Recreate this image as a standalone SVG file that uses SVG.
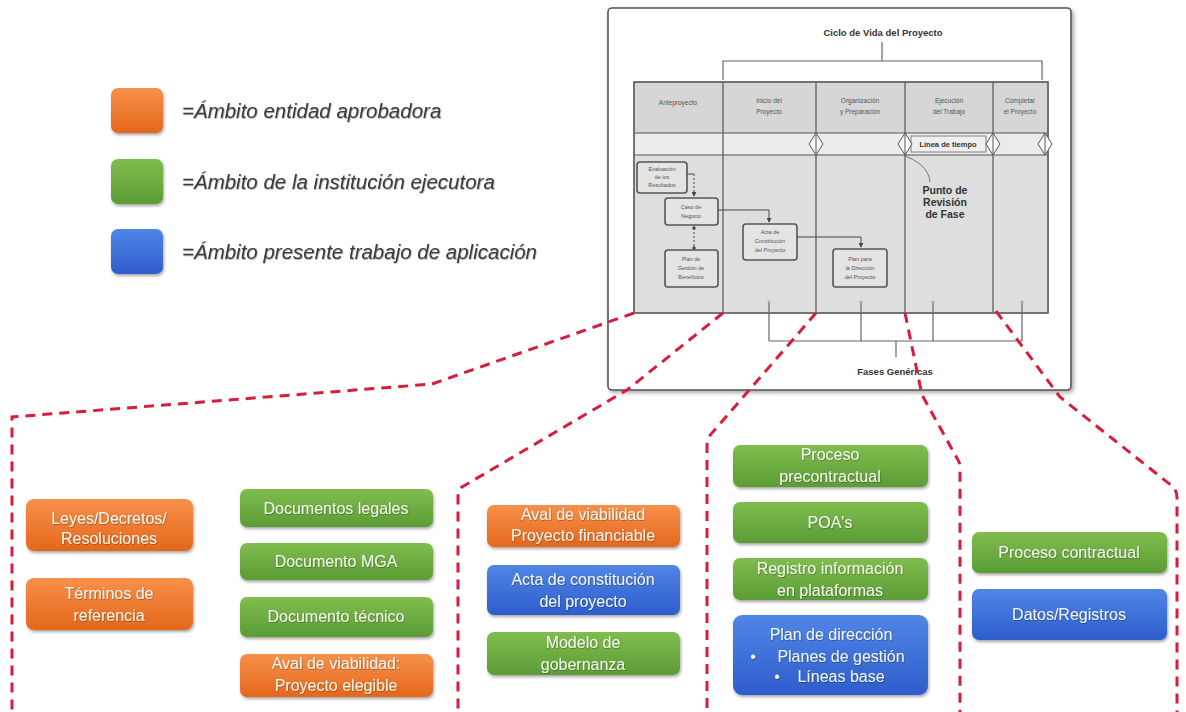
<svg xmlns="http://www.w3.org/2000/svg" width="1186" height="712" viewBox="0 0 1186 712">
  <defs>
    <linearGradient id="gOrange" x1="0" y1="0" x2="0" y2="1">
      <stop offset="0" stop-color="#f7904a"/>
      <stop offset="1" stop-color="#e4671b"/>
    </linearGradient>
    <linearGradient id="gGreen" x1="0" y1="0" x2="0" y2="1">
      <stop offset="0" stop-color="#80bd4f"/>
      <stop offset="1" stop-color="#5c9c35"/>
    </linearGradient>
    <linearGradient id="gBlue" x1="0" y1="0" x2="0" y2="1">
      <stop offset="0" stop-color="#5086e6"/>
      <stop offset="1" stop-color="#2e5dcc"/>
    </linearGradient>
    <filter id="shadow" x="-10%" y="-20%" width="125%" height="150%">
      <feDropShadow dx="1" dy="2" stdDeviation="1.6" flood-color="#000" flood-opacity="0.35"/>
    </filter>
    <filter id="frameShadow" x="-5%" y="-5%" width="110%" height="110%">
      <feDropShadow dx="2" dy="2" stdDeviation="2" flood-color="#000" flood-opacity="0.35"/>
    </filter>
    <filter id="textShadow" x="-5%" y="-20%" width="110%" height="150%">
      <feDropShadow dx="0.6" dy="0.8" stdDeviation="0.6" flood-color="#000" flood-opacity="0.35"/>
    </filter>
    <marker id="tip" viewBox="0 0 6 6" refX="5" refY="3" markerWidth="5" markerHeight="5" orient="auto">
      <path d="M0,0 L6,3 L0,6 Z" fill="#444"/>
    </marker>
    <marker id="dot" viewBox="0 0 6 6" refX="3" refY="3" markerWidth="4" markerHeight="4">
      <circle cx="3" cy="3" r="2.5" fill="#444"/>
    </marker>
  </defs>
  <style>
    .box { stroke: none; filter: url(#shadow); }
    .o { fill: url(#gOrange); }
    .g { fill: url(#gGreen); }
    .b { fill: url(#gBlue); }
    .bt { font-family: "Liberation Sans", Arial, sans-serif; font-size: 16px; fill: #f3f6ee; text-anchor: middle; filter: url(#textShadow); }
    .leg { font-family: "Liberation Sans", Arial, sans-serif; font-size: 20.5px; font-style: italic; fill: #3a3a3a; filter: url(#textShadow); }
    .hdr { font-family: "Liberation Sans", Arial, sans-serif; font-size: 6.5px; fill: #555; text-anchor: middle; }
    .ib { fill: #e4e4e4; stroke: #555; stroke-width: 1.6; }
    .ibt { font-family: "Liberation Sans", Arial, sans-serif; font-size: 5.5px; fill: #555; text-anchor: middle; }
    .bold { font-family: "Liberation Sans", Arial, sans-serif; font-weight: bold; fill: #333; text-anchor: middle; }
    .thin { fill: none; stroke: #666; stroke-width: 1.2; }
    .div { stroke: #555; stroke-width: 1.2; }
    .dia { fill: #fafafa; stroke: #555; stroke-width: 1; }
    .link { fill: none; stroke: #444; stroke-width: 1; }
    .red { fill: none; stroke: #d81c3c; stroke-width: 3; stroke-dasharray: 10 7; }
  </style>

  <rect width="1186" height="712" fill="#ffffff"/>

  <!-- Legend -->
  <g id="legend-approver">
    <rect class="box o" x="111" y="88" width="52" height="45" rx="7"/>
    <text class="leg" x="182" y="118">=Ámbito entidad aprobadora</text>
  </g>
  <g id="legend-executor">
    <rect class="box g" x="111" y="159" width="52" height="45" rx="7"/>
    <text class="leg" x="182" y="189">=Ámbito de la institución ejecutora</text>
  </g>
  <g id="legend-application">
    <rect class="box b" x="111" y="229" width="52" height="45" rx="7"/>
    <text class="leg" x="182" y="259">=Ámbito presente trabajo de aplicación</text>
  </g>

  <!-- Project life cycle figure -->
  <g id="lifecycle">
    <rect x="608" y="8" width="463" height="382" rx="4" fill="#ffffff" stroke="#555" stroke-width="1.6" filter="url(#frameShadow)"/>
    <text class="bold" x="883" y="36" font-size="9.5">Ciclo de Vida del Proyecto</text>
    <path class="thin" d="M723,80 V61 H1042 V80 M882,42 V61"/>

    <!-- table -->
    <rect x="634" y="82" width="414" height="231" fill="#dedede"/>
    <rect x="634" y="82" width="414" height="51" fill="#d6d6d6"/>
    <rect x="634" y="133" width="414" height="22" fill="#ececec"/>
    <path class="div" d="M634,133 H1048 M634,155 H1048 M723,82 V313 M816,82 V313 M905,82 V313 M993,82 V313"/>
    <rect x="634" y="82" width="414" height="231" fill="none" stroke="#666" stroke-width="1.8"/>

    <text class="hdr" x="678" y="105">Anteproyecto</text>
    <text class="hdr" x="769" y="103">Inicio del</text>
    <text class="hdr" x="769" y="114">Proyecto</text>
    <text class="hdr" x="860" y="103">Organización</text>
    <text class="hdr" x="860" y="114">y Preparación</text>
    <text class="hdr" x="949" y="103">Ejecución</text>
    <text class="hdr" x="949" y="114">del Trabajo</text>
    <text class="hdr" x="1020" y="103">Completar</text>
    <text class="hdr" x="1020" y="114">el Proyecto</text>

    <!-- timeline -->
    <rect x="911" y="136" width="75" height="16" fill="#efefef" stroke="#666" stroke-width="0.8"/>
    <text class="bold" x="948" y="147" font-size="7.5">Línea de tiempo</text>
    <g id="gates">
      <path class="dia" d="M816,133 L809,144 L816,155 L823,144 Z M816,134 V154"/>
      <path class="dia" d="M905,133 L898,144 L905,155 L912,144 Z M905,134 V154"/>
      <path class="dia" d="M993,133 L986,144 L993,155 L1000,144 Z M993,134 V154"/>
      <path class="dia" d="M1045,133 L1038,144 L1045,155 L1052,144 Z M1045,134 V154"/>
    </g>
    <path d="M905,156 C916,160 929,168 930,182" fill="none" stroke="#777" stroke-width="1"/>
    <text class="bold" x="945" y="194" font-size="10.5">Punto de</text>
    <text class="bold" x="945" y="206" font-size="10.5">Revisión</text>
    <text class="bold" x="945" y="218" font-size="10.5">de Fase</text>

    <!-- documents -->
    <g id="doc-evaluacion">
      <rect class="ib" x="637" y="162" width="50" height="31" rx="3"/>
      <text class="ibt" x="662" y="171">Evaluación</text>
      <text class="ibt" x="662" y="179">de los</text>
      <text class="ibt" x="662" y="187">Resultados</text>
    </g>
    <g id="doc-caso">
      <rect class="ib" x="665" y="198" width="53" height="27" rx="3"/>
      <text class="ibt" x="691" y="209">Caso de</text>
      <text class="ibt" x="691" y="218">Negocio</text>
    </g>
    <g id="doc-beneficios">
      <rect class="ib" x="665" y="250" width="53" height="37" rx="3"/>
      <text class="ibt" x="691" y="261">Plan de</text>
      <text class="ibt" x="691" y="270">Gestión de</text>
      <text class="ibt" x="691" y="279">Beneficios</text>
    </g>
    <g id="doc-acta">
      <rect class="ib" x="743" y="224" width="54" height="36" rx="3"/>
      <text class="ibt" x="770" y="234">Acta de</text>
      <text class="ibt" x="770" y="243">Constitución</text>
      <text class="ibt" x="770" y="252">del Proyecto</text>
    </g>
    <g id="doc-plan">
      <rect class="ib" x="833" y="249" width="54" height="38" rx="3"/>
      <text class="ibt" x="860" y="261">Plan para</text>
      <text class="ibt" x="860" y="270">la Dirección</text>
      <text class="ibt" x="860" y="279">del Proyecto</text>
    </g>
    <g id="doc-links">
      <path class="link" d="M687,174 H694"/>
      <path class="link" d="M694,174 V196" stroke-dasharray="2 2" marker-end="url(#tip)"/>
      <path class="link" d="M694,228 V248" stroke-dasharray="2 2" marker-start="url(#dot)" marker-end="url(#dot)"/>
      <path class="link" d="M718,210 H769 V222" marker-end="url(#tip)"/>
      <path class="link" d="M797,237 H861 V247" marker-end="url(#tip)"/>
    </g>

    <!-- generic phases -->
    <path class="thin" d="M769,302 V341 M861,302 V341 M933,302 V341 M1022,302 V341 M769,341 H1022 M896,341 V357" stroke="#888"/>
    <g fill="#aaa">
      <circle cx="769" cy="302" r="1.5"/>
      <circle cx="861" cy="302" r="1.5"/>
      <circle cx="933" cy="302" r="1.5"/>
      <circle cx="1022" cy="302" r="1.5"/>
    </g>
    <text class="bold" x="895" y="375" font-size="9.5">Fases Genéricas</text>
  </g>

  <!-- Column 1: Anteproyecto -->
  <g id="n-leyes">
    <rect class="box o" x="26" y="499" width="167" height="52" rx="8"/>
    <text class="bt" x="109" y="524">Leyes/Decretos/</text>
    <text class="bt" x="109" y="544">Resoluciones</text>
  </g>
  <g id="n-terminos">
    <rect class="box o" x="26" y="578" width="167" height="52" rx="8"/>
    <text class="bt" x="109" y="599">Términos de</text>
    <text class="bt" x="109" y="621">referencia</text>
  </g>
  <g id="n-doc-legales">
    <rect class="box g" x="240" y="489" width="193" height="38" rx="7"/>
    <text class="bt" x="336" y="514">Documentos legales</text>
  </g>
  <g id="n-doc-mga">
    <rect class="box g" x="240" y="543" width="193" height="37" rx="7"/>
    <text class="bt" x="336" y="567">Documento MGA</text>
  </g>
  <g id="n-doc-tecnico">
    <rect class="box g" x="240" y="597" width="193" height="40" rx="7"/>
    <text class="bt" x="336" y="622">Documento técnico</text>
  </g>
  <g id="n-aval-elegible">
    <rect class="box o" x="240" y="654" width="193" height="43" rx="7"/>
    <text class="bt" x="336" y="669">Aval de viabilidad:</text>
    <text class="bt" x="336" y="691">Proyecto elegible</text>
  </g>

  <!-- Column 2: Inicio del proyecto -->
  <g id="n-aval-financiable">
    <rect class="box o" x="487" y="505" width="193" height="42" rx="7"/>
    <text class="bt" x="583" y="520">Aval de viabilidad</text>
    <text class="bt" x="583" y="541">Proyecto financiable</text>
  </g>
  <g id="n-acta">
    <rect class="box b" x="487" y="565" width="193" height="50" rx="7"/>
    <text class="bt" x="583" y="585">Acta de constitución</text>
    <text class="bt" x="583" y="607">del proyecto</text>
  </g>
  <g id="n-gobernanza">
    <rect class="box g" x="487" y="632" width="193" height="43" rx="7"/>
    <text class="bt" x="583" y="648">Modelo de</text>
    <text class="bt" x="583" y="670">gobernanza</text>
  </g>

  <!-- Column 3: Organización y preparación -->
  <g id="n-precontractual">
    <rect class="box g" x="733" y="445" width="195" height="42" rx="7"/>
    <text class="bt" x="830" y="460">Proceso</text>
    <text class="bt" x="830" y="482">precontractual</text>
  </g>
  <g id="n-poas">
    <rect class="box g" x="733" y="502" width="195" height="41" rx="7"/>
    <text class="bt" x="830" y="528">POA's</text>
  </g>
  <g id="n-registro">
    <rect class="box g" x="733" y="558" width="195" height="42" rx="7"/>
    <text class="bt" x="830" y="574">Registro información</text>
    <text class="bt" x="830" y="596">en plataformas</text>
  </g>
  <g id="n-plan-direccion">
    <rect class="box b" x="733" y="615" width="195" height="80" rx="9"/>
    <text class="bt" x="831" y="640">Plan de dirección</text>
    <text class="bt" x="753" y="662">•</text>
    <text class="bt" x="841" y="662">Planes de gestión</text>
    <text class="bt" x="777" y="682">•</text>
    <text class="bt" x="841" y="682">Líneas base</text>
  </g>

  <!-- Column 4: Ejecución del trabajo -->
  <g id="n-contractual">
    <rect class="box g" x="972" y="532" width="195" height="41" rx="7"/>
    <text class="bt" x="1069" y="558">Proceso contractual</text>
  </g>
  <g id="n-datos">
    <rect class="box b" x="972" y="589" width="195" height="51" rx="7"/>
    <text class="bt" x="1069" y="620">Datos/Registros</text>
  </g>

  <!-- Dashed phase boundaries -->
  <g id="connectors">
    <path class="red" d="M634,313 L432,384 L12,417 V712"/>
    <path class="red" d="M723,313 L627,390 L462,487 Q458,490 458,497 V712"/>
    <path class="red" d="M816,313 L712,433 Q707,438 707,446 V712"/>
    <path class="red" d="M905,313 L922,395 L958,460 Q960,463 960,468 V712"/>
    <path class="red" d="M996,311 L1060,397 L1172,486 Q1177,490 1177,498 V712"/>
  </g>
</svg>
